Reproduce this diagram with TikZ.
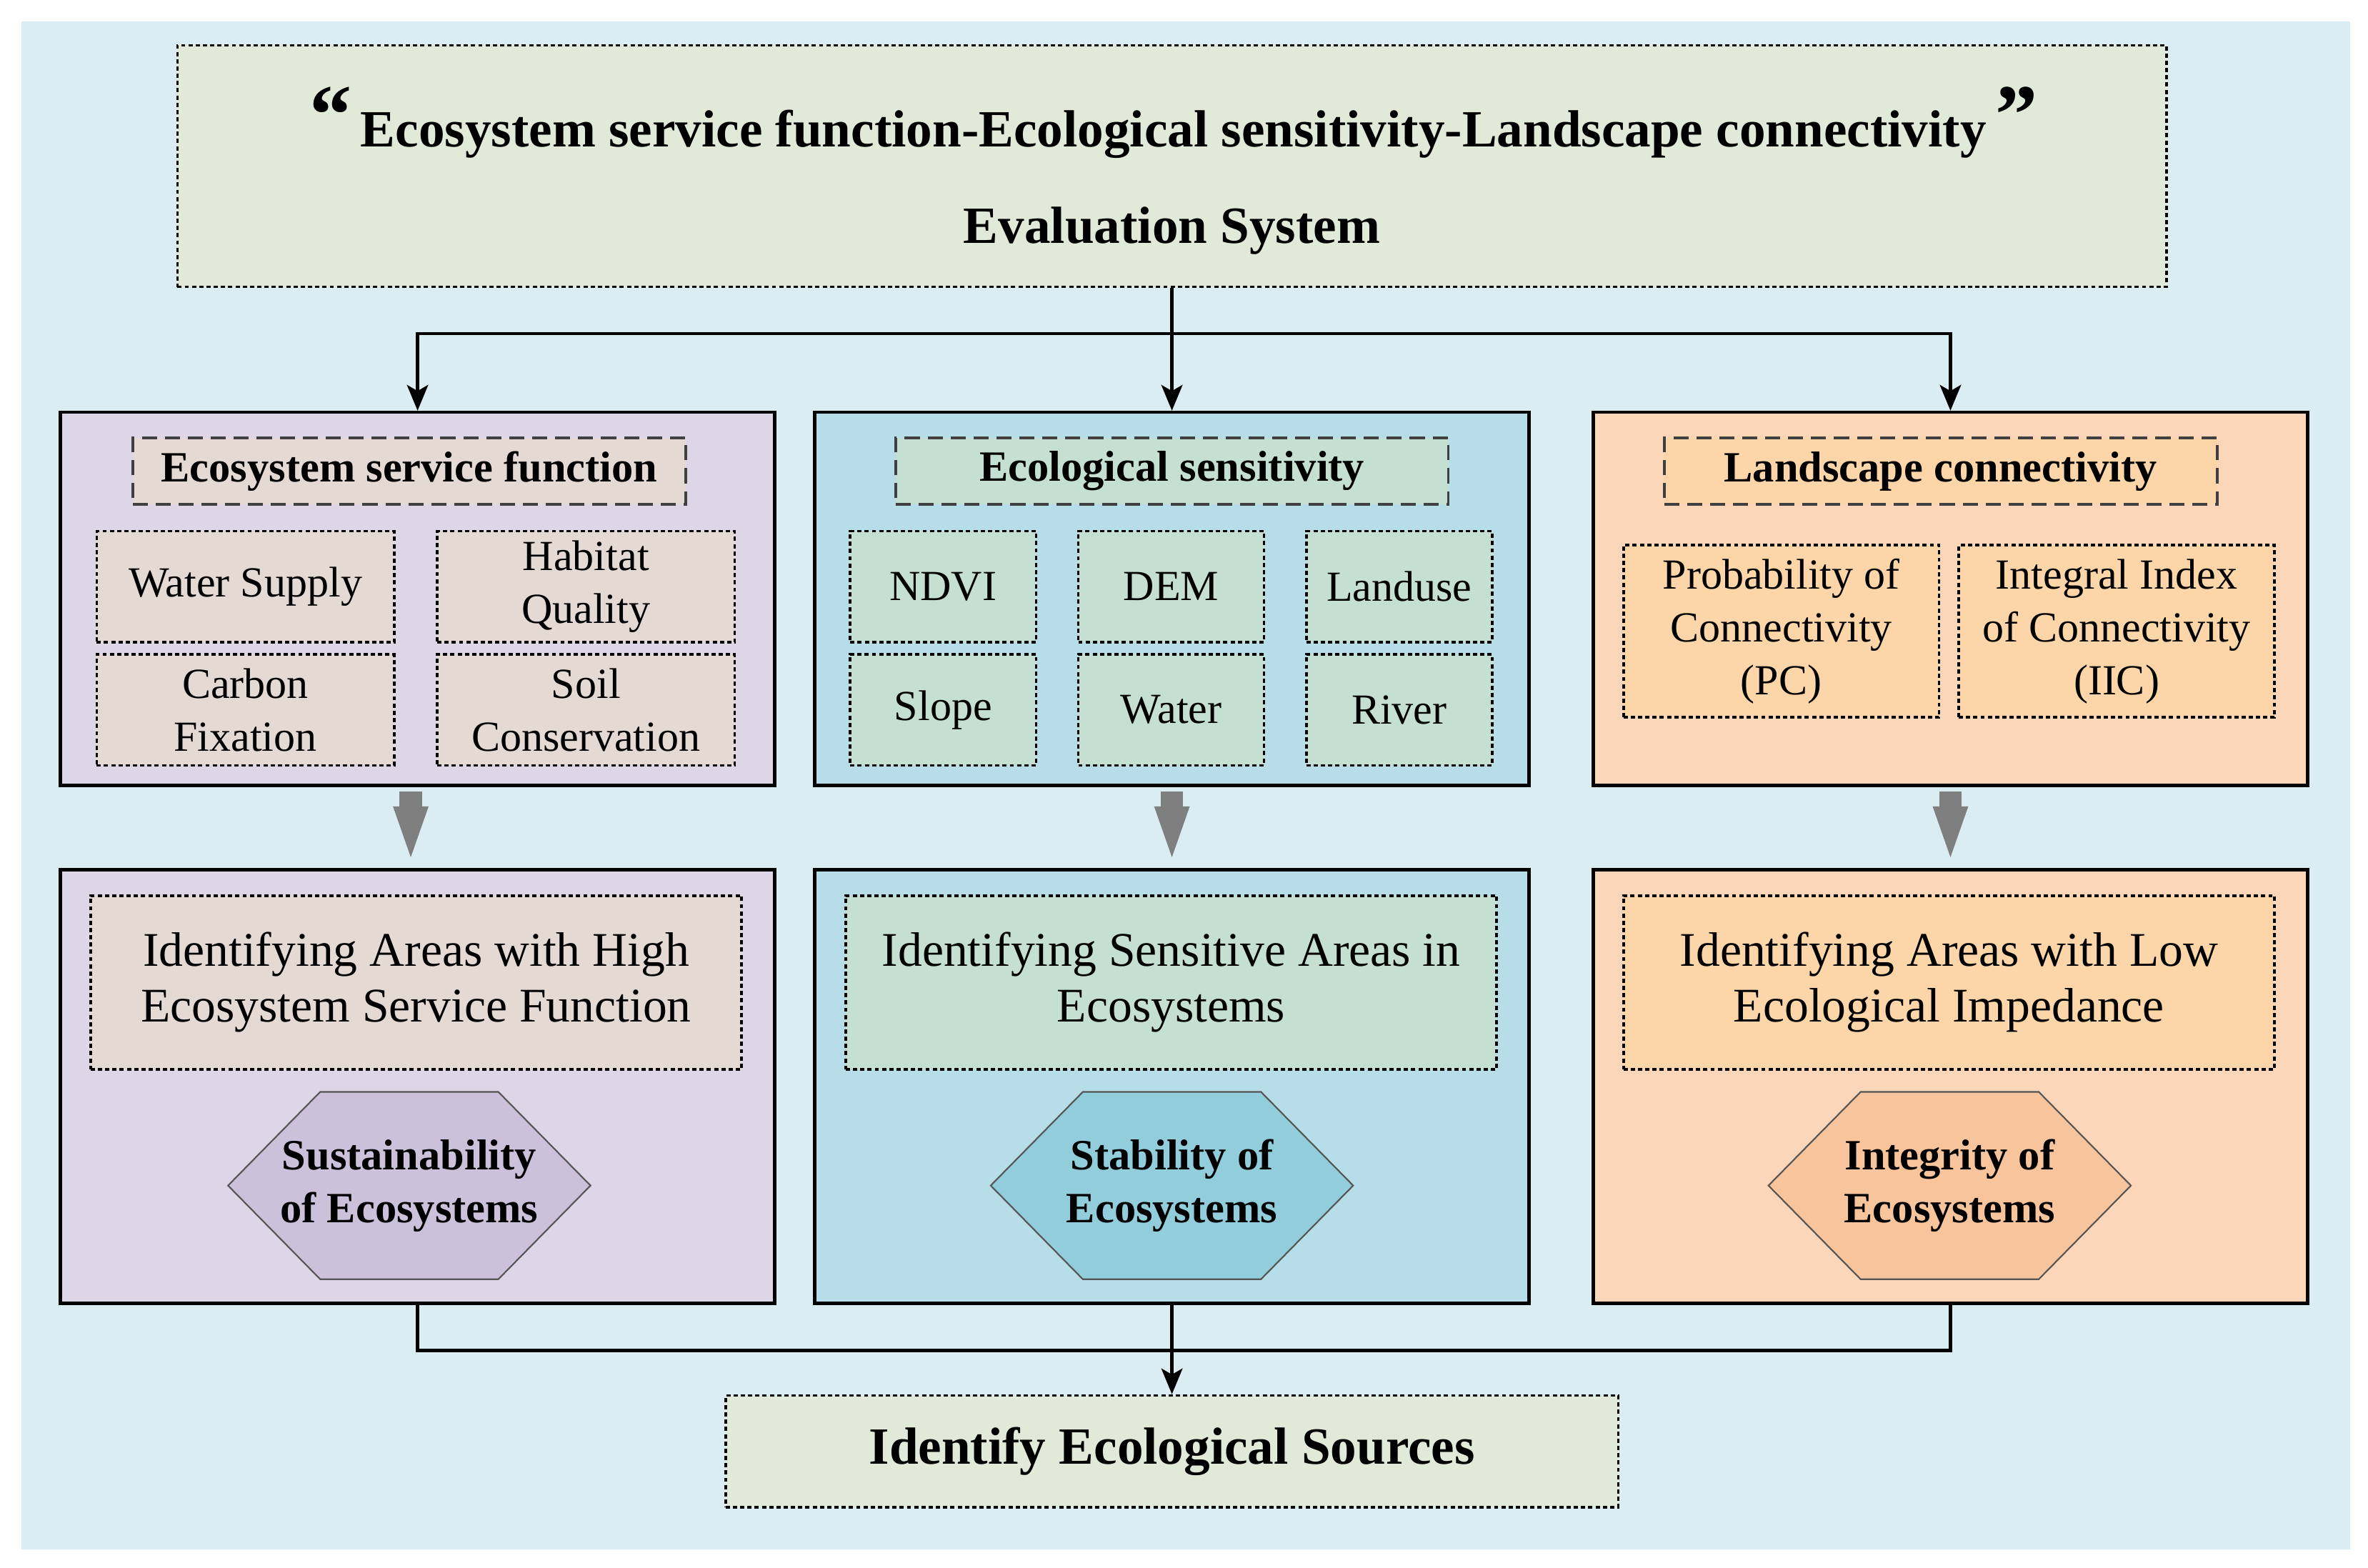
\documentclass[tikz,border=0pt]{standalone}
\usepackage{fontspec}
\setmainfont{Liberation Serif}
\usetikzlibrary{arrows.meta}
\definecolor{bgc}{HTML}{DAEDF3}
\definecolor{topc}{HTML}{E1E9D8}
\definecolor{pA}{HTML}{DDD6E6}
\definecolor{pAin}{HTML}{E5D9D3}
\definecolor{pAhex}{HTML}{CCC1DB}
\definecolor{pB}{HTML}{B7DEE8}
\definecolor{pBin}{HTML}{C5DFD2}
\definecolor{pBhex}{HTML}{92CDDC}
\definecolor{pC}{HTML}{FBD6B8}
\definecolor{pCin}{HTML}{FCD6A8}
\definecolor{pChex}{HTML}{F8C49C}
\definecolor{dgray}{HTML}{404040}
\definecolor{arrgray}{HTML}{7F7F7F}
\definecolor{hexline}{HTML}{555555}
\newcommand{\qL}{{\fontsize{28}{28}\selectfont\raisebox{1pt}{“}}}
\newcommand{\qR}{{\fontsize{28}{28}\selectfont\raisebox{1pt}{”}}}
\begin{document}
\begin{tikzpicture}[x=0.5pt,y=-0.5pt,
  mainbox/.style={draw=black, line width=1.1pt, inner sep=0pt, minimum width=236.5pt},
  upbox/.style={mainbox, minimum height=123.5pt},
  lowbox/.style={mainbox, minimum height=143.5pt},
  headbox/.style={draw=dgray, line width=0.9pt, dash pattern=on 5pt off 2.6pt, minimum width=183pt, minimum height=22pt, inner sep=0pt, font=\fontsize{14.3}{17}\selectfont\bfseries},
  dotbox/.style={draw=black, line width=0.85pt, dash pattern=on 1.4pt off 1pt, inner sep=0pt, align=center},
  itemA/.style={dotbox, fill=pAin, minimum width=98.5pt, minimum height=36.75pt, font=\fontsize{14.2}{17.5}\selectfont},
  itemB/.style={dotbox, fill=pBin, minimum width=61.5pt, minimum height=36.75pt, font=\fontsize{14.2}{17.5}\selectfont},
  itemC/.style={dotbox, fill=pCin, minimum width=104.5pt, minimum height=57pt, font=\fontsize{14.2}{17.5}\selectfont},
  idbox/.style={dotbox, minimum width=215.5pt, minimum height=57.5pt, font=\fontsize{16}{18.5}\selectfont},
  hexshape/.style={draw=hexline, line width=0.5pt},
  hextext/.style={align=center, inner sep=0pt, font=\fontsize{14.3}{17.5}\selectfont\bfseries},
  arr/.style={line width=1.1pt, -{Stealth[length=8.5pt,width=7pt,inset=2pt]}},
  link/.style={line width=1.1pt},
  grayarr/.style={draw=arrgray, line width=7.5pt, -{Triangle[length=19pt,width=10pt]}, shorten <=1.5pt, shorten >=1.5pt}
]
\useasboundingbox (0,0) rectangle (1568,1038);
\fill[bgc] (14,14) rectangle (1556,1026);

% top evaluation system box
\node[dotbox, fill=topc, minimum width=658.5pt, minimum height=80pt] (top) at (776,110) {};
\node[anchor=base, inner sep=0pt, font=\fontsize{17.3}{20}\selectfont\bfseries] (title1) at (777,97)
  {\qL\kern3pt Ecosystem service function-Ecological sensitivity-Landscape connectivity\kern3pt\qR};
\node[anchor=base, inner sep=0pt, font=\fontsize{17.3}{20}\selectfont\bfseries] (title2) at (776,161) {Evaluation System};

% upper boxes
\node[upbox, fill=pA] (up1) at (276.5,396.5) {};
\node[upbox, fill=pB] (up2) at (776,396.5) {};
\node[upbox, fill=pC] (up3) at (1291.5,396.5) {};

\node[headbox, fill=pAin] (h1) at (271,312) {Ecosystem service function};
\node[headbox, fill=pBin] (h2) at (776,312) {Ecological sensitivity};
\node[headbox, fill=pCin] (h3) at (1285,312) {Landscape connectivity};

\node[itemA] (ws) at (162.5,388.5) {Water Supply};
\node[itemA] (hq) at (388,388.5) {Habitat\\Quality};
\node[itemA] (cf) at (162.5,470) {Carbon\\Fixation};
\node[itemA] (sc) at (388,470) {Soil\\Conservation};

\node[itemB] (ndvi) at (624.5,388.5) {NDVI};
\node[itemB] (dem) at (775.5,388.5) {DEM};
\node[itemB] (lu) at (926.5,388.5) {Landuse};
\node[itemB] (slope) at (624.5,470) {Slope};
\node[itemB] (water) at (775.5,470) {Water};
\node[itemB] (river) at (926.5,470) {River};

\node[itemC] (pc) at (1179.5,418) {Probability of\\Connectivity\\(PC)};
\node[itemC] (iic) at (1401.5,418) {Integral Index\\of Connectivity\\(IIC)};

% lower boxes
\node[lowbox, fill=pA] (low1) at (276.5,719.5) {};
\node[lowbox, fill=pB] (low2) at (776,719.5) {};
\node[lowbox, fill=pC] (low3) at (1291.5,719.5) {};

\node[idbox, fill=pAin] (id1) at (275.5,650.5) {Identifying Areas with High\\Ecosystem Service Function};
\node[idbox, fill=pBin] (id2) at (775.5,650.5) {Identifying Sensitive Areas in\\Ecosystems};
\node[idbox, fill=pCin] (id3) at (1290.5,650.5) {Identifying Areas with Low\\Ecological Impedance};

\coordinate (hc1) at (271,785);
\coordinate (hc2) at (776,785);
\coordinate (hc3) at (1291,785);
\draw[hexshape, fill=pAhex, shift={(hc1)}] (-120,0) -- (-59,-62) -- (59,-62) -- (120,0) -- (59,62) -- (-59,62) -- cycle;
\draw[hexshape, fill=pBhex, shift={(hc2)}] (-120,0) -- (-59,-62) -- (59,-62) -- (120,0) -- (59,62) -- (-59,62) -- cycle;
\draw[hexshape, fill=pChex, shift={(hc3)}] (-120,0) -- (-59,-62) -- (59,-62) -- (120,0) -- (59,62) -- (-59,62) -- cycle;
\node[hextext] (hex1) at (hc1) {Sustainability\\of Ecosystems};
\node[hextext] (hex2) at (hc2) {Stability of\\Ecosystems};
\node[hextext] (hex3) at (hc3) {Integrity of\\Ecosystems};

% final box
\node[dotbox, fill=topc, minimum width=295.5pt, minimum height=37pt, font=\fontsize{17.3}{20}\selectfont\bfseries] (final) at (776,961) {Identify Ecological Sources};

% connectors
\draw[arr] (top.south) -- (up2.north);
\draw[arr] (top.south) -- ++(0,30) -| (up1.north);
\draw[arr] (top.south) -- ++(0,30) -| (up3.north);

\draw[grayarr] ([xshift=-2.25pt]up1.south) -- ([xshift=-2.25pt]low1.north);
\draw[grayarr] (up2.south) -- (low2.north);
\draw[grayarr] (up3.south) -- (low3.north);

\draw[link] (low1.south) -- ++(0,30) -| (low3.south);
\draw[arr] (low2.south) -- (final.north);
\end{tikzpicture}
\end{document}
